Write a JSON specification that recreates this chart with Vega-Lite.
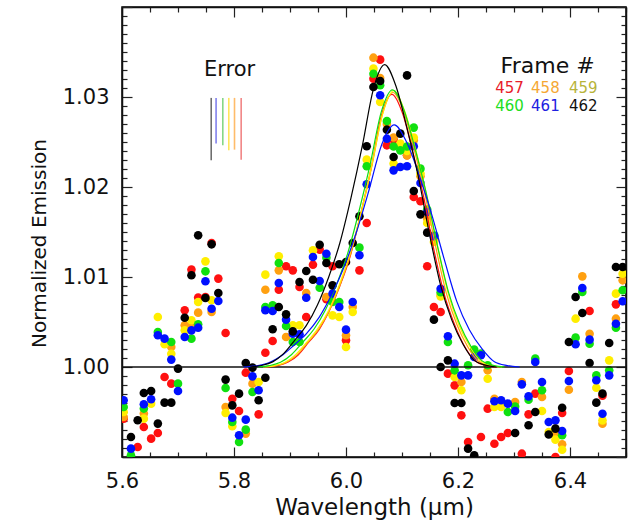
{
"$schema":"https://vega.github.io/schema/vega-lite/v6.json",
"width":504,"height":450,
"autosize":{"type":"none"},
"padding":{"left":122,"top":7,"right":15,"bottom":63},
"background":"white",
"config":{"view":{"stroke":"black","strokeWidth":1.5},"font":"DejaVu Sans","text":{"font":"DejaVu Sans"}},
"datasets":{
"pts":[
{"f":"457","x":5.603,"y":0.99426},{"f":"457","x":5.628,"y":0.99111},{"f":"457","x":5.639,"y":0.99333},{"f":"457","x":5.652,"y":0.99204},{"f":"457","x":5.664,"y":0.99267},{"f":"457","x":5.676,"y":0.99889},{"f":"457","x":5.688,"y":0.99815},{"f":"457","x":5.712,"y":1.0063},{"f":"457","x":5.724,"y":1.01082},{"f":"457","x":5.736,"y":1.00771},{"f":"457","x":5.749,"y":1.00778},{"f":"457","x":5.76,"y":1.01378},{"f":"457","x":5.772,"y":1.00982},{"f":"457","x":5.785,"y":1.00378},{"f":"457","x":5.797,"y":0.99648},{"f":"457","x":5.809,"y":0.99511},{"f":"457","x":5.821,"y":0.99937},{"f":"457","x":5.844,"y":0.99474},{"f":"457","x":5.856,"y":1.00159},{"f":"457","x":5.869,"y":1.00289},{"f":"457","x":5.88,"y":1.00859},{"f":"457","x":5.893,"y":1.01119},{"f":"457","x":5.905,"y":1.01074},{"f":"457","x":5.917,"y":1.00889},{"f":"457","x":5.929,"y":1.00556},{"f":"457","x":5.941,"y":1.01137},{"f":"457","x":5.953,"y":1.01304},{"f":"457","x":5.965,"y":1.00752},{"f":"457","x":5.976,"y":1.01119},{"f":"457","x":6.0,"y":1.00296},{"f":"457","x":6.024,"y":1.01074},{"f":"457","x":6.037,"y":1.016},{"f":"457","x":6.049,"y":1.03204},{"f":"457","x":6.061,"y":1.03415},{"f":"457","x":6.073,"y":1.02463},{"f":"457","x":6.085,"y":1.02526},{"f":"457","x":6.109,"y":1.02352},{"f":"457","x":6.121,"y":1.01889},{"f":"457","x":6.133,"y":1.01841},{"f":"457","x":6.145,"y":1.01119},{"f":"457","x":6.157,"y":1.00667},{"f":"457","x":6.169,"y":1.00611},{"f":"457","x":6.182,"y":0.99926},{"f":"457","x":6.194,"y":0.99796},{"f":"457","x":6.206,"y":0.99463},{"f":"457","x":6.218,"y":0.99167},{"f":"457","x":6.241,"y":0.99222},{"f":"457","x":6.253,"y":0.99537},{"f":"457","x":6.265,"y":0.99148},{"f":"457","x":6.277,"y":0.99222},{"f":"457","x":6.289,"y":0.99267},{"f":"457","x":6.314,"y":0.99037},{"f":"457","x":6.326,"y":0.99474},{"f":"457","x":6.338,"y":0.99704},{"f":"457","x":6.374,"y":0.99},{"f":"457","x":6.386,"y":0.99489},{"f":"457","x":6.398,"y":0.99956},{"f":"457","x":6.435,"y":1.00622},{"f":"457","x":6.458,"y":0.9968},{"f":"457","x":6.482,"y":1.00696},
{"f":"458","x":5.603,"y":0.99444},{"f":"458","x":5.639,"y":0.99482},{"f":"458","x":5.688,"y":1.00222},{"f":"458","x":5.712,"y":1.00463},{"f":"458","x":5.724,"y":1.00463},{"f":"458","x":5.736,"y":1.00604},{"f":"458","x":5.76,"y":1.00611},{"f":"458","x":5.785,"y":0.99556},{"f":"458","x":5.821,"y":0.9926},{"f":"458","x":5.833,"y":0.99815},{"f":"458","x":5.856,"y":1.00859},{"f":"458","x":5.88,"y":1.01074},{"f":"458","x":5.893,"y":1.00333},{"f":"458","x":5.929,"y":1.00822},{"f":"458","x":5.965,"y":1.00778},{"f":"458","x":6.0,"y":1.00352},{"f":"458","x":6.012,"y":1.00667},{"f":"458","x":6.049,"y":1.03437},{"f":"458","x":6.061,"y":1.0321},{"f":"458","x":6.073,"y":1.027},{"f":"458","x":6.085,"y":1.0255},{"f":"458","x":6.097,"y":1.0246},{"f":"458","x":6.109,"y":1.0235},{"f":"458","x":6.121,"y":1.0252},{"f":"458","x":6.133,"y":1.0212},{"f":"458","x":6.145,"y":1.0165},{"f":"458","x":6.158,"y":1.0141},{"f":"458","x":6.169,"y":1.008},{"f":"458","x":6.206,"y":0.99833},{"f":"458","x":6.253,"y":0.99963},{"f":"458","x":6.265,"y":0.99648},{"f":"458","x":6.302,"y":0.99611},{"f":"458","x":6.314,"y":0.99833},{"f":"458","x":6.35,"y":0.99667},{"f":"458","x":6.374,"y":0.99259},{"f":"458","x":6.386,"y":0.99141},{"f":"458","x":6.398,"y":0.99748},{"f":"458","x":6.422,"y":1.01007},{"f":"458","x":6.435,"y":1.0037},{"f":"458","x":6.458,"y":0.9937},{"f":"458","x":6.482,"y":1.00537},{"f":"458","x":6.494,"y":1.00963},
{"f":"459","x":5.603,"y":0.995},{"f":"459","x":5.639,"y":0.99426},{"f":"459","x":5.652,"y":0.99593},{"f":"459","x":5.664,"y":1.00556},{"f":"459","x":5.676,"y":1.00252},{"f":"459","x":5.688,"y":1.00148},{"f":"459","x":5.712,"y":1.00407},{"f":"459","x":5.724,"y":1.00519},{"f":"459","x":5.736,"y":1.00722},{"f":"459","x":5.749,"y":1.01174},{"f":"459","x":5.76,"y":1.00741},{"f":"459","x":5.785,"y":0.99489},{"f":"459","x":5.797,"y":0.99341},{"f":"459","x":5.844,"y":0.99833},{"f":"459","x":5.856,"y":1.01026},{"f":"459","x":5.88,"y":1.0123},{"f":"459","x":5.905,"y":1.00463},{"f":"459","x":5.917,"y":1.00463},{"f":"459","x":5.941,"y":1.01296},{"f":"459","x":5.976,"y":1.00574},{"f":"459","x":5.988,"y":1.00556},{"f":"459","x":6.0,"y":1.00222},{"f":"459","x":6.012,"y":1.00611},{"f":"459","x":6.037,"y":1.02304},{"f":"459","x":6.049,"y":1.03315},{"f":"459","x":6.061,"y":1.02944},{"f":"459","x":6.085,"y":1.0226},{"f":"459","x":6.097,"y":1.02482},{"f":"459","x":6.109,"y":1.024},{"f":"459","x":6.121,"y":1.0255},{"f":"459","x":6.133,"y":1.0215},{"f":"459","x":6.145,"y":1.016},{"f":"459","x":6.157,"y":1.01389},{"f":"459","x":6.169,"y":1.00785},{"f":"459","x":6.194,"y":0.99889},{"f":"459","x":6.206,"y":0.99741},{"f":"459","x":6.253,"y":0.9987},{"f":"459","x":6.265,"y":0.99556},{"f":"459","x":6.277,"y":0.99556},{"f":"459","x":6.35,"y":0.99511},{"f":"459","x":6.362,"y":0.99278},{"f":"459","x":6.374,"y":0.99193},{"f":"459","x":6.386,"y":0.99081},{"f":"459","x":6.41,"y":1.00537},{"f":"459","x":6.447,"y":0.9977},{"f":"459","x":6.458,"y":0.99407},{"f":"459","x":6.47,"y":1.00074},{"f":"459","x":6.482,"y":1.00815},{"f":"459","x":6.494,"y":1.01037},
{"f":"460","x":5.603,"y":0.99556},{"f":"460","x":5.616,"y":0.99019},{"f":"460","x":5.639,"y":0.99538},{"f":"460","x":5.664,"y":1.00389},{"f":"460","x":5.688,"y":1.00278},{"f":"460","x":5.7,"y":0.99815},{"f":"460","x":5.724,"y":1.00315},{"f":"460","x":5.736,"y":1.00474},{"f":"460","x":5.749,"y":1.01063},{"f":"460","x":5.785,"y":0.99767},{"f":"460","x":5.797,"y":0.99389},{"f":"460","x":5.809,"y":0.99167},{"f":"460","x":5.821,"y":0.99304},{"f":"460","x":5.833,"y":0.99722},{"f":"460","x":5.856,"y":1.00667},{"f":"460","x":5.869,"y":1.00685},{"f":"460","x":5.88,"y":1.01156},{"f":"460","x":5.893,"y":1.00456},{"f":"460","x":5.905,"y":1.00278},{"f":"460","x":5.917,"y":1.00278},{"f":"460","x":5.953,"y":1.00881},{"f":"460","x":5.965,"y":1.01215},{"f":"460","x":5.976,"y":1.00722},{"f":"460","x":5.988,"y":1.00722},{"f":"460","x":6.024,"y":1.01326},{"f":"460","x":6.037,"y":1.0223},{"f":"460","x":6.049,"y":1.03259},{"f":"460","x":6.061,"y":1.0313},{"f":"460","x":6.073,"y":1.02733},{"f":"460","x":6.085,"y":1.0245},{"f":"460","x":6.097,"y":1.02407},{"f":"460","x":6.109,"y":1.0245},{"f":"460","x":6.121,"y":1.0266},{"f":"460","x":6.133,"y":1.02204},{"f":"460","x":6.145,"y":1.0175},{"f":"460","x":6.158,"y":1.0146},{"f":"460","x":6.169,"y":1.0083},{"f":"460","x":6.182,"y":1.00278},{"f":"460","x":6.194,"y":0.99963},{"f":"460","x":6.218,"y":1.00019},{"f":"460","x":6.229,"y":1.00193},{"f":"460","x":6.241,"y":1.0015},{"f":"460","x":6.253,"y":1.00019},{"f":"460","x":6.289,"y":0.995},{"f":"460","x":6.302,"y":0.9956},{"f":"460","x":6.326,"y":0.99637},{"f":"460","x":6.338,"y":1.00093},{"f":"460","x":6.35,"y":0.99741},{"f":"460","x":6.386,"y":0.99241},{"f":"460","x":6.41,"y":1.00326},{"f":"460","x":6.422,"y":1.00833},{"f":"460","x":6.435,"y":1.00259},{"f":"460","x":6.447,"y":0.99907},{"f":"460","x":6.47,"y":0.99963},{"f":"460","x":6.482,"y":1.00437},{"f":"460","x":6.494,"y":1.00852},
{"f":"461","x":5.603,"y":0.9963},{"f":"461","x":5.616,"y":0.99093},{"f":"461","x":5.639,"y":0.99586},{"f":"461","x":5.652,"y":0.99641},{"f":"461","x":5.664,"y":1.00352},{"f":"461","x":5.676,"y":1.00315},{"f":"461","x":5.688,"y":1.00082},{"f":"461","x":5.7,"y":0.99733},{"f":"461","x":5.712,"y":1.00333},{"f":"461","x":5.724,"y":1.00407},{"f":"461","x":5.736,"y":1.00437},{"f":"461","x":5.749,"y":1.00952},{"f":"461","x":5.76,"y":1.00648},{"f":"461","x":5.772,"y":1.00733},{"f":"461","x":5.797,"y":0.99437},{"f":"461","x":5.809,"y":0.99241},{"f":"461","x":5.821,"y":0.99415},{"f":"461","x":5.833,"y":0.99896},{"f":"461","x":5.844,"y":0.99741},{"f":"461","x":5.856,"y":1.0063},{"f":"461","x":5.869,"y":1.00622},{"f":"461","x":5.88,"y":1.00933},{"f":"461","x":5.893,"y":1.00526},{"f":"461","x":5.905,"y":1.0037},{"f":"461","x":5.917,"y":1.00363},{"f":"461","x":5.929,"y":1.0077},{"f":"461","x":5.941,"y":1.01222},{"f":"461","x":5.953,"y":1.00956},{"f":"461","x":5.965,"y":1.01259},{"f":"461","x":5.976,"y":1.00815},{"f":"461","x":5.988,"y":1.00667},{"f":"461","x":6.0,"y":1.00415},{"f":"461","x":6.012,"y":1.00722},{"f":"461","x":6.024,"y":1.01241},{"f":"461","x":6.037,"y":1.0203},{"f":"461","x":6.061,"y":1.03019},{"f":"461","x":6.073,"y":1.02537},{"f":"461","x":6.085,"y":1.02185},{"f":"461","x":6.097,"y":1.02222},{"f":"461","x":6.109,"y":1.0223},{"f":"461","x":6.121,"y":1.02452},{"f":"461","x":6.133,"y":1.02044},{"f":"461","x":6.145,"y":1.01722},{"f":"461","x":6.157,"y":1.01452},{"f":"461","x":6.169,"y":1.0087},{"f":"461","x":6.182,"y":1.00341},{"f":"461","x":6.194,"y":1.00037},{"f":"461","x":6.206,"y":0.99907},{"f":"461","x":6.218,"y":0.99907},{"f":"461","x":6.229,"y":1.00111},{"f":"461","x":6.241,"y":1.0013},{"f":"461","x":6.265,"y":0.99619},{"f":"461","x":6.277,"y":0.9963},{"f":"461","x":6.289,"y":0.99593},{"f":"461","x":6.302,"y":0.99511},{"f":"461","x":6.314,"y":0.99807},{"f":"461","x":6.326,"y":0.99674},{"f":"461","x":6.338,"y":1.00056},{"f":"461","x":6.35,"y":0.99833},{"f":"461","x":6.362,"y":0.99389},{"f":"461","x":6.374,"y":0.99407},{"f":"461","x":6.386,"y":0.99289},{"f":"461","x":6.398,"y":0.99844},{"f":"461","x":6.41,"y":1.00252},{"f":"461","x":6.422,"y":1.00878},{"f":"461","x":6.435,"y":1.00304},{"f":"461","x":6.447,"y":0.99852},{"f":"461","x":6.458,"y":0.99481},{"f":"461","x":6.47,"y":0.99907},{"f":"461","x":6.482,"y":1.00481},{"f":"461","x":6.494,"y":1.0073},
{"f":"462","x":5.616,"y":0.99222},{"f":"462","x":5.628,"y":0.99408},{"f":"462","x":5.639,"y":0.99711},{"f":"462","x":5.652,"y":0.99733},{"f":"462","x":5.664,"y":0.99371},{"f":"462","x":5.676,"y":0.99604},{"f":"462","x":5.688,"y":0.99604},{"f":"462","x":5.7,"y":0.99982},{"f":"462","x":5.712,"y":1.00548},{"f":"462","x":5.724,"y":1.01019},{"f":"462","x":5.736,"y":1.01463},{"f":"462","x":5.749,"y":1.00767},{"f":"462","x":5.76,"y":1.01363},{"f":"462","x":5.772,"y":1.00822},{"f":"462","x":5.785,"y":0.9986},{"f":"462","x":5.797,"y":0.99574},{"f":"462","x":5.809,"y":0.99704},{"f":"462","x":5.821,"y":1.00044},{"f":"462","x":5.833,"y":0.99993},{"f":"462","x":5.844,"y":0.9963},{"f":"462","x":5.856,"y":0.99881},{"f":"462","x":5.869,"y":1.00419},{"f":"462","x":5.88,"y":1.00667},{"f":"462","x":5.893,"y":1.00585},{"f":"462","x":5.905,"y":1.00396},{"f":"462","x":5.917,"y":1.00944},{"f":"462","x":5.929,"y":1.01067},{"f":"462","x":5.941,"y":1.0097},{"f":"462","x":5.953,"y":1.01359},{"f":"462","x":5.965,"y":1.01156},{"f":"462","x":5.976,"y":1.00907},{"f":"462","x":5.988,"y":1.01141},{"f":"462","x":6.0,"y":1.01167},{"f":"462","x":6.012,"y":1.01378},{"f":"462","x":6.024,"y":1.01674},{"f":"462","x":6.037,"y":1.02452},{"f":"462","x":6.049,"y":1.03111},{"f":"462","x":6.061,"y":1.03178},{"f":"462","x":6.073,"y":1.02637},{"f":"462","x":6.085,"y":1.02333},{"f":"462","x":6.097,"y":1.02593},{"f":"462","x":6.109,"y":1.0324},{"f":"462","x":6.121,"y":1.01956},{"f":"462","x":6.133,"y":1.01696},{"f":"462","x":6.145,"y":1.01493},{"f":"462","x":6.157,"y":1.00526},{"f":"462","x":6.169,"y":1.0},{"f":"462","x":6.182,"y":1.00074},{"f":"462","x":6.194,"y":0.996},{"f":"462","x":6.206,"y":0.996},{"f":"462","x":6.218,"y":0.99093},{"f":"462","x":6.229,"y":0.99019},{"f":"462","x":6.302,"y":0.99267},{"f":"462","x":6.326,"y":0.99352},{"f":"462","x":6.338,"y":0.995},{"f":"462","x":6.362,"y":0.9925},{"f":"462","x":6.374,"y":0.99315},{"f":"462","x":6.386,"y":0.99548},{"f":"462","x":6.398,"y":1.00278},{"f":"462","x":6.41,"y":1.00778},{"f":"462","x":6.422,"y":1.006},{"f":"462","x":6.435,"y":1.00044},{"f":"462","x":6.447,"y":0.99604},{"f":"462","x":6.458,"y":0.99704},{"f":"462","x":6.47,"y":1.00267},{"f":"462","x":6.482,"y":1.01111},{"f":"462","x":6.494,"y":1.01111}
],
"fits":[
{"f":"457","x":5.859,"y":1.0},{"f":"457","x":5.877,"y":1.00015},{"f":"457","x":5.896,"y":1.00052},{"f":"457","x":5.915,"y":1.00136},{"f":"457","x":5.933,"y":1.00273},{"f":"457","x":5.952,"y":1.00415},{"f":"457","x":5.97,"y":1.00621},{"f":"457","x":5.989,"y":1.009},{"f":"457","x":6.008,"y":1.01242},{"f":"457","x":6.026,"y":1.01697},{"f":"457","x":6.045,"y":1.02212},{"f":"457","x":6.063,"y":1.02788},{"f":"457","x":6.082,"y":1.0303},{"f":"457","x":6.101,"y":1.02818},{"f":"457","x":6.119,"y":1.02394},{"f":"457","x":6.138,"y":1.01909},{"f":"457","x":6.156,"y":1.01333},{"f":"457","x":6.175,"y":1.00818},{"f":"457","x":6.194,"y":1.0047},{"f":"457","x":6.212,"y":1.00227},{"f":"457","x":6.231,"y":1.00067},{"f":"457","x":6.249,"y":1.00018},{"f":"457","x":6.268,"y":1.0},
{"f":"458","x":5.856,"y":1.0},{"f":"458","x":5.875,"y":1.00015},{"f":"458","x":5.894,"y":1.00052},{"f":"458","x":5.913,"y":1.00137},{"f":"458","x":5.932,"y":1.00275},{"f":"458","x":5.951,"y":1.00418},{"f":"458","x":5.97,"y":1.00625},{"f":"458","x":5.989,"y":1.00906},{"f":"458","x":6.008,"y":1.01251},{"f":"458","x":6.027,"y":1.01708},{"f":"458","x":6.046,"y":1.02227},{"f":"458","x":6.065,"y":1.02806},{"f":"458","x":6.084,"y":1.0305},{"f":"458","x":6.103,"y":1.02837},{"f":"458","x":6.122,"y":1.0241},{"f":"458","x":6.141,"y":1.01922},{"f":"458","x":6.16,"y":1.01342},{"f":"458","x":6.179,"y":1.00824},{"f":"458","x":6.198,"y":1.00473},{"f":"458","x":6.217,"y":1.00229},{"f":"458","x":6.236,"y":1.00067},{"f":"458","x":6.255,"y":1.00018},{"f":"458","x":6.274,"y":1.0},
{"f":"459","x":5.852,"y":1.0},{"f":"459","x":5.872,"y":1.00015},{"f":"459","x":5.891,"y":1.00052},{"f":"459","x":5.91,"y":1.00138},{"f":"459","x":5.93,"y":1.00276},{"f":"459","x":5.949,"y":1.00421},{"f":"459","x":5.969,"y":1.00629},{"f":"459","x":5.988,"y":1.00912},{"f":"459","x":6.007,"y":1.01259},{"f":"459","x":6.027,"y":1.01719},{"f":"459","x":6.046,"y":1.02241},{"f":"459","x":6.066,"y":1.02824},{"f":"459","x":6.085,"y":1.0307},{"f":"459","x":6.104,"y":1.02855},{"f":"459","x":6.124,"y":1.02425},{"f":"459","x":6.143,"y":1.01934},{"f":"459","x":6.163,"y":1.01351},{"f":"459","x":6.182,"y":1.00829},{"f":"459","x":6.201,"y":1.00476},{"f":"459","x":6.221,"y":1.0023},{"f":"459","x":6.24,"y":1.00068},{"f":"459","x":6.26,"y":1.00018},{"f":"459","x":6.279,"y":1.0},
{"f":"460","x":5.843,"y":1.0},{"f":"460","x":5.863,"y":1.00015},{"f":"460","x":5.883,"y":1.00052},{"f":"460","x":5.903,"y":1.00139},{"f":"460","x":5.923,"y":1.00277},{"f":"460","x":5.943,"y":1.00422},{"f":"460","x":5.963,"y":1.00631},{"f":"460","x":5.983,"y":1.00915},{"f":"460","x":6.003,"y":1.01263},{"f":"460","x":6.023,"y":1.01725},{"f":"460","x":6.043,"y":1.02248},{"f":"460","x":6.063,"y":1.02834},{"f":"460","x":6.083,"y":1.0308},{"f":"460","x":6.103,"y":1.02864},{"f":"460","x":6.123,"y":1.02433},{"f":"460","x":6.143,"y":1.0194},{"f":"460","x":6.163,"y":1.01355},{"f":"460","x":6.183,"y":1.00832},{"f":"460","x":6.203,"y":1.00477},{"f":"460","x":6.223,"y":1.00231},{"f":"460","x":6.243,"y":1.00068},{"f":"460","x":6.263,"y":1.00018},{"f":"460","x":6.283,"y":1.0},
{"f":"461","x":5.817,"y":1.0},{"f":"461","x":5.84,"y":1.00013},{"f":"461","x":5.862,"y":1.00046},{"f":"461","x":5.884,"y":1.00121},{"f":"461","x":5.907,"y":1.00242},{"f":"461","x":5.929,"y":1.00369},{"f":"461","x":5.952,"y":1.00551},{"f":"461","x":5.974,"y":1.00799},{"f":"461","x":5.996,"y":1.01103},{"f":"461","x":6.019,"y":1.01506},{"f":"461","x":6.041,"y":1.01964},{"f":"461","x":6.064,"y":1.02475},{"f":"461","x":6.086,"y":1.0269},{"f":"461","x":6.108,"y":1.02502},{"f":"461","x":6.131,"y":1.02125},{"f":"461","x":6.153,"y":1.01695},{"f":"461","x":6.176,"y":1.01184},{"f":"461","x":6.198,"y":1.00726},{"f":"461","x":6.22,"y":1.00417},{"f":"461","x":6.243,"y":1.00202},{"f":"461","x":6.265,"y":1.00059},{"f":"461","x":6.288,"y":1.00016},{"f":"461","x":6.31,"y":1.0},
{"f":"462","x":5.829,"y":1.0},{"f":"462","x":5.849,"y":1.00017},{"f":"462","x":5.869,"y":1.00057},{"f":"462","x":5.889,"y":1.00151},{"f":"462","x":5.909,"y":1.00302},{"f":"462","x":5.929,"y":1.0046},{"f":"462","x":5.949,"y":1.00689},{"f":"462","x":5.969,"y":1.00998},{"f":"462","x":5.989,"y":1.01378},{"f":"462","x":6.009,"y":1.01882},{"f":"462","x":6.029,"y":1.02453},{"f":"462","x":6.049,"y":1.03091},{"f":"462","x":6.069,"y":1.0336},{"f":"462","x":6.089,"y":1.03125},{"f":"462","x":6.109,"y":1.02654},{"f":"462","x":6.129,"y":1.02117},{"f":"462","x":6.149,"y":1.01478},{"f":"462","x":6.169,"y":1.00907},{"f":"462","x":6.189,"y":1.00521},{"f":"462","x":6.209,"y":1.00252},{"f":"462","x":6.229,"y":1.00074},{"f":"462","x":6.249,"y":1.0002},{"f":"462","x":6.269,"y":1.0}
],
"base":[{"x":5.6,"y":1.0},{"x":6.5,"y":1.0}],
"err":[
{"x":5.7593,"y":1.0299,"y2":1.02297,"c":"#555555"},
{"x":5.768,"y":1.0299,"y2":1.02482,"c":"#6a6ae8"},
{"x":5.78,"y":1.0299,"y2":1.02463,"c":"#70d070"},
{"x":5.7907,"y":1.0299,"y2":1.02408,"c":"#ffe040"},
{"x":5.8009,"y":1.0299,"y2":1.02415,"c":"#ffb050"},
{"x":5.8128,"y":1.0299,"y2":1.02304,"c":"#ee7070"}
],
"labs":[
{"x":5.792,"y":1.033,"t":"Error","c":"#111111","s":21},
{"x":6.36,"y":1.0334,"t":"Frame #","c":"#111111","s":22},
{"x":6.292,"y":1.031,"t":"457","c":"#e8202a","s":15},
{"x":6.356,"y":1.031,"t":"458","c":"#f5a833","s":15},
{"x":6.4236,"y":1.031,"t":"459","c":"#b8b43a","s":15},
{"x":6.292,"y":1.029,"t":"460","c":"#22dd22","s":15},
{"x":6.356,"y":1.029,"t":"461","c":"#2020e0","s":15},
{"x":6.4236,"y":1.029,"t":"462","c":"#111111","s":15}
]
},
"layer":[
{"data":{"name":"err"},"mark":{"type":"rule","strokeWidth":1.6,"opacity":0.85},
 "encoding":{"x":{"field":"x","type":"quantitative","scale":{"domain":[5.6,6.5],"nice":false,"zero":false},"axis":null},
 "y":{"field":"y","type":"quantitative","scale":{"domain":[0.99,1.04],"nice":false,"zero":false},"axis":null},
 "y2":{"field":"y2"},"color":{"field":"c","type":"nominal","scale":null}}},
{"data":{"name":"pts"},"mark":{"type":"circle","size":74,"opacity":1,"clip":true},
 "encoding":{
 "x":{"field":"x","type":"quantitative","scale":{"domain":[5.6,6.5],"nice":false,"zero":false},
  "axis":{"orient":"bottom","values":[5.6,5.65,5.7,5.75,5.8,5.85,5.9,5.95,6.0,6.05,6.1,6.15,6.2,6.25,6.3,6.35,6.4,6.45,6.5],
  "title":"Wavelength (μm)","titleFontSize":23,"titleFontWeight":"normal","titleColor":"#111111","titleFont":"DejaVu Sans","titleBaseline":"alphabetic","titleY":57,
  "labelExpr":"abs(datum.value*5-round(datum.value*5))<0.001 ? format(datum.value,'.1f') : ''",
  "labelFontSize":21,"labelColor":"#111111","labelFont":"DejaVu Sans","labelPadding":23,"labelOverlap":false,"labelFlush":false,"labelBound":false,
  "tickSize":{"condition":{"test":"abs(datum.value*5-round(datum.value*5))<0.001","value":-10},"value":-5},
  "tickColor":"#222222","tickWidth":1.2,"domainColor":"#111111","domainWidth":1.5,"grid":false}},
 "y":{"field":"y","type":"quantitative","scale":{"domain":[0.99,1.04],"nice":false,"zero":false},
  "axis":{"orient":"left","values":[0.99,0.991,0.992,0.993,0.994,0.995,0.996,0.997,0.998,0.999,1.0,1.001,1.002,1.003,1.004,1.005,1.006,1.007,1.008,1.009,1.01,1.011,1.012,1.013,1.014,1.015,1.016,1.017,1.018,1.019,1.02,1.021,1.022,1.023,1.024,1.025,1.026,1.027,1.028,1.029,1.03,1.031,1.032,1.033,1.034,1.035,1.036,1.037,1.038,1.039,1.04],
  "title":"Normalized Emission","titleFontSize":20,"titleFontWeight":"normal","titleColor":"#111111","titleFont":"DejaVu Sans","titleAngle":-90,"titleBaseline":"alphabetic","titleAlign":"center","titleX":-77,"titleY":236,
  "labelExpr":"abs(datum.value*100-round(datum.value*100))<0.01 && datum.value>0.995 && datum.value<1.035 ? format(datum.value,'.2f') : ''",
  "labelFontSize":21,"labelColor":"#111111","labelFont":"DejaVu Sans","labelPadding":23,"labelOverlap":false,"labelFlush":false,"labelBound":false,
  "tickSize":{"condition":{"test":"abs(datum.value*100-round(datum.value*100))<0.01","value":-10},"value":-5},
  "tickColor":"#222222","tickWidth":1.2,"domainColor":"#111111","domainWidth":1.5,"grid":false}},
 "color":{"field":"f","type":"nominal","scale":{"domain":["457","458","459","460","461","462"],"range":["#ff1010","#ffa010","#ffee00","#10e010","#0010ff","#000000"]},"legend":null}}},
{"data":{"name":"base"},"mark":{"type":"line","strokeWidth":1.3,"color":"#111111"},
 "encoding":{"x":{"field":"x","type":"quantitative","scale":{"domain":[5.6,6.5],"nice":false,"zero":false},"axis":null},
 "y":{"field":"y","type":"quantitative","scale":{"domain":[0.99,1.04],"nice":false,"zero":false},"axis":null}}},
{"data":{"name":"fits"},"mark":{"type":"line","strokeWidth":1.2,"interpolate":"monotone"},
 "encoding":{
 "x":{"field":"x","type":"quantitative","scale":{"domain":[5.6,6.5],"nice":false,"zero":false},
  "axis":{"orient":"top","values":[5.6,5.65,5.7,5.75,5.8,5.85,5.9,5.95,6.0,6.05,6.1,6.15,6.2,6.25,6.3,6.35,6.4,6.45,6.5],"title":null,"labels":false,
  "tickSize":{"condition":{"test":"abs(datum.value*5-round(datum.value*5))<0.001","value":-10},"value":-5},
  "tickColor":"#222222","tickWidth":1.2,"domainColor":"#111111","domainWidth":1.5,"grid":false}},
 "y":{"field":"y","type":"quantitative","scale":{"domain":[0.99,1.04],"nice":false,"zero":false},
  "axis":{"orient":"right","values":[0.99,0.991,0.992,0.993,0.994,0.995,0.996,0.997,0.998,0.999,1.0,1.001,1.002,1.003,1.004,1.005,1.006,1.007,1.008,1.009,1.01,1.011,1.012,1.013,1.014,1.015,1.016,1.017,1.018,1.019,1.02,1.021,1.022,1.023,1.024,1.025,1.026,1.027,1.028,1.029,1.03,1.031,1.032,1.033,1.034,1.035,1.036,1.037,1.038,1.039,1.04],"title":null,"labels":false,
  "tickSize":{"condition":{"test":"abs(datum.value*100-round(datum.value*100))<0.01","value":-10},"value":-5},
  "tickColor":"#222222","tickWidth":1.2,"domainColor":"#111111","domainWidth":1.5,"grid":false}},
 "color":{"field":"f","type":"nominal","scale":{"domain":["457","458","459","460","461","462"],"range":["#ff1010","#ffa010","#ffee00","#10e010","#0010ff","#000000"]},"legend":null}}},
{"data":{"name":"labs"},"mark":{"type":"text","align":"center","baseline":"middle","font":"DejaVu Sans"},
 "encoding":{"x":{"field":"x","type":"quantitative","scale":{"domain":[5.6,6.5],"nice":false,"zero":false},"axis":null},
 "y":{"field":"y","type":"quantitative","scale":{"domain":[0.99,1.04],"nice":false,"zero":false},"axis":null},
 "text":{"field":"t"},"color":{"field":"c","type":"nominal","scale":null},"size":{"field":"s","type":"quantitative","scale":null}}}
],
"resolve":{"axis":{"x":"independent","y":"independent"}}
}
